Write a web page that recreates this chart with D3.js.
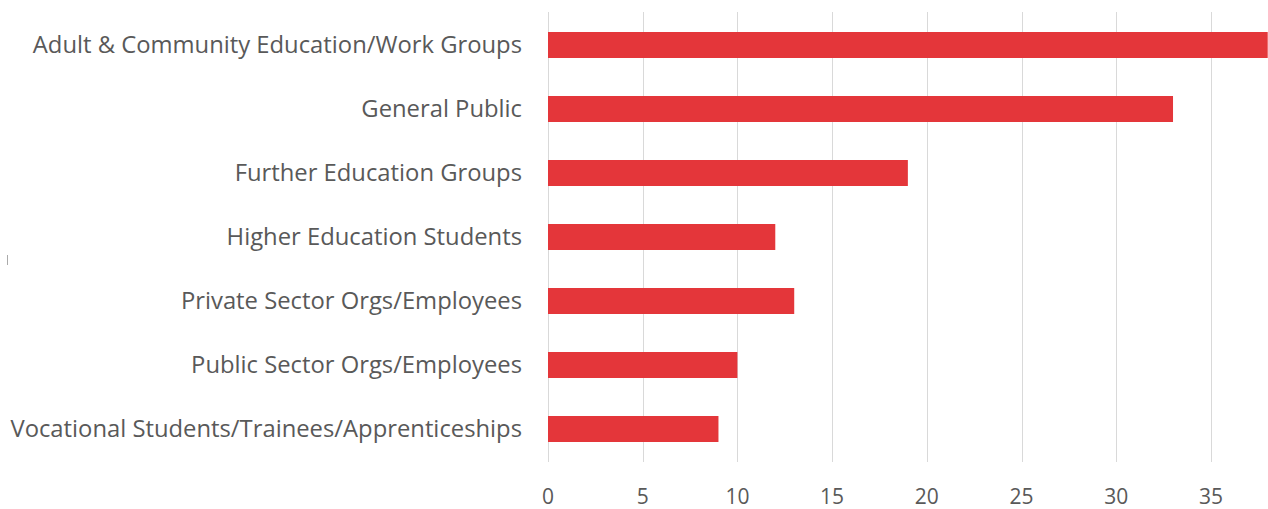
<!DOCTYPE html>
<html>
<head>
<meta charset="utf-8">
<script src="https://cdn.jsdelivr.net/npm/d3@7"></script>
<style>
  html, body { margin: 0; padding: 0; background: #fff; }
  svg { display: block; }
  text { font-family: "Open Sans", "Liberation Sans", sans-serif; fill: #595959; }
</style>
</head>
<body>
<svg id="chart" width="1268" height="509"></svg>
<script>
// Audience groups and counts
const categories = [
  "Adult & Community Education/Work Groups",
  "General Public",
  "Further Education Groups",
  "Higher Education Students",
  "Private Sector Orgs/Employees",
  "Public Sector Orgs/Employees",
  "Vocational Students/Trainees/Apprenticeships"
];
const values = [38, 33, 19, 12, 13, 10, 9];
const tickValues = [0, 5, 10, 15, 20, 25, 30, 35];

const svg = d3.select("#chart");
const plot = { left: 548, right: 1268, top: 13, bottom: 461 };

const x = d3.scaleLinear().domain([0, 38]).range([plot.left, plot.left + 38 * 18.94]);
const y = d3.scaleBand().domain(categories).range([plot.top, plot.bottom])
  .paddingInner(0.594).paddingOuter(0.297);

// vertical gridlines
svg.append("g")
  .selectAll("line")
  .data(tickValues)
  .join("line")
  .attr("x1", d => Math.round(x(d)) + 0.5)
  .attr("x2", d => Math.round(x(d)) + 0.5)
  .attr("y1", 12)
  .attr("y2", 462)
  .attr("stroke", "#d9d9d9")
  .attr("stroke-width", 1);

// x tick labels
svg.append("g")
  .selectAll("text")
  .data(tickValues)
  .join("text")
  .attr("x", d => x(d))
  .attr("y", 504)
  .attr("text-anchor", "middle")
  .style("font-size", "21px")
  .text(d => d);

// bars
svg.append("g")
  .selectAll("rect")
  .data(categories.map((c, i) => ({ c, v: values[i] })))
  .join("rect")
  .attr("x", x(0))
  .attr("y", d => y(d.c))
  .attr("width", d => x(d.v) - x(0))
  .attr("height", y.bandwidth())
  .attr("fill", "#e4363a");

// category labels
svg.append("g")
  .selectAll("text")
  .data(categories)
  .join("text")
  .attr("x", 522)
  .attr("y", d => y(d) + y.bandwidth() / 2 - 1)
  .attr("text-anchor", "end")
  .attr("dominant-baseline", "central")
  .style("font-size", "23.8px")
  .text(d => d);

// small stray mark at the left edge
svg.append("line")
  .attr("x1", 7.5).attr("x2", 7.5)
  .attr("y1", 255).attr("y2", 265)
  .attr("stroke", "#aaaaaa")
  .attr("stroke-width", 1);
</script>
</body>
</html>
